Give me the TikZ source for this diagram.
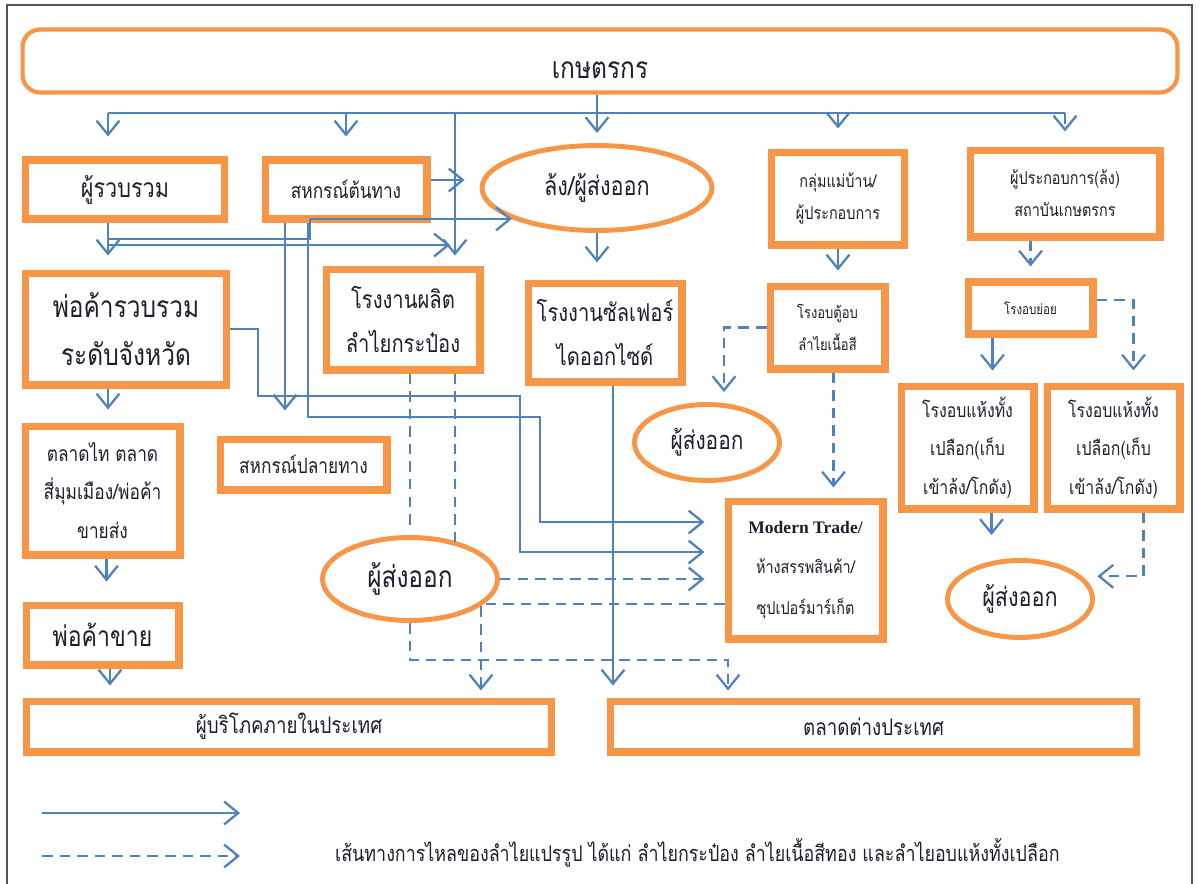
\documentclass[tikz,border=0pt]{standalone}
\usepackage{fontspec}
\usetikzlibrary{arrows.meta,shapes.geometric}
\newfontfamily\thai[Script=Thai,FakeStretch=0.82]{Loma}
\newfontfamily\latinserif{Liberation Serif}
\newcommand\thfs[2]{\fontsize{#1}{#2}\selectfont}
\definecolor{orng}{HTML}{F79646}
\definecolor{blu}{HTML}{4F81BD}
\definecolor{txt}{HTML}{1E1E2E}
\definecolor{frm}{HTML}{555555}
\begin{document}
\begin{tikzpicture}[x=0.02cm,y=-0.02cm,
  box/.style={draw=orng, line width=4pt, fill=white, rectangle, align=center, inner sep=0pt, text=txt},
  oval/.style={draw=orng, line width=2.8pt, fill=white, ellipse, inner sep=0pt, align=center, text=txt},
  conn/.style={draw=blu, line width=1.3pt},
  arr/.style={conn, -{Straight Barb[length=8pt,width=13pt]}},
  darr/.style={arr, dash pattern=on 6pt off 4pt},
  dline/.style={conn, dash pattern=on 6pt off 4pt}]
\useasboundingbox (0,0) rectangle (1200,883);
\fill[white] (0,0) rectangle (1200,883);
\draw[frm, line width=1.2pt] (7,890) -- (7,5) -- (1192,5) -- (1192,890);

% nodes
\node[box, rounded corners=0.35cm, line width=2.4pt, minimum width=23.1cm, minimum height=1.26cm, font=\thai\thfs{17}{20}] (farmer) at (600,61) {\smash{\raisebox{-0.34cm}{เกษตรกร}}};
\node[box, minimum width=4.0cm, minimum height=1.18cm, font=\thai\thfs{15}{20}] (collector) at (125,189.5) {ผู้รวบรวม};
\node[box, minimum width=3.24cm, minimum height=1.18cm, font=\thai\thfs{12}{16}] (coopsrc) at (346,189.5) {สหกรณ์ต้นทาง};
\node[oval, minimum width=4.6cm, minimum height=1.7cm, font=\thai\thfs{15}{18}] (longexp) at (597,188) {ล้ง/ผู้ส่งออก};
\node[box, minimum width=2.66cm, minimum height=1.86cm, font=\thai\thfs{10}{18}] (housewife) at (838,198.5) {กลุ่มแม่บ้าน/\\ผู้ประกอบการ};
\node[box, minimum width=3.8cm, minimum height=1.74cm, font=\thai\thfs{10}{18}] (operator) at (1065,193.5) {ผู้ประกอบการ(ล้ง)\\สถาบันเกษตรกร};
\node[box, minimum width=4.04cm, minimum height=2.24cm, font=\thai\thfs{17}{27}] (provtrader) at (126,329) {พ่อค้ารวบรวม\\ระดับจังหวัด};
\node[box, minimum width=3.08cm, minimum height=2.02cm, font=\thai\thfs{14}{25}] (cannery) at (403,319.5) {โรงงานผลิต\\ลำไยกระป๋อง};
\node[box, minimum width=3.08cm, minimum height=1.98cm, font=\thai\thfs{14}{25}] (sulfur) at (605,332.5) {โรงงานซัลเฟอร์\\ไดออกไซด์};
\node[box, minimum width=2.3cm, minimum height=1.66cm, font=\thai\thfs{9}{18}] (ovenflesh) at (827.5,327.5) {โรงอบตู้อบ\\ลำไยเนื้อสี};
\node[box, minimum width=2.5cm, minimum height=1.04cm, font=\thai\thfs{8}{10}] (smalloven) at (1030.5,308) {โรงอบย่อย};
\node[oval, minimum width=2.9cm, minimum height=1.52cm, font=\thai\thfs{14.5}{18}] (exportmid) at (707,442.5) {ผู้ส่งออก};
\node[box, minimum width=3.1cm, minimum height=2.58cm, font=\thai\thfs{12}{22}] (talatthai) at (102.5,490.5) {ตลาดไท ตลาด\\สี่มุมเมือง/พ่อค้า\\ขายส่ง};
\node[box, minimum width=3.34cm, minimum height=1.02cm, font=\thai\thfs{12}{16}] (coopdst) at (303.5,464.5) {สหกรณ์ปลายทาง};
\node[box, minimum width=2.66cm, minimum height=2.46cm, font=\thai\thfs{11}{22}] (dryL) at (967.5,447.5) {โรงอบแห้งทั้ง\\เปลือก(เก็บ\\เข้าล้ง/โกดัง)};
\node[box, minimum width=2.66cm, minimum height=2.46cm, font=\thai\thfs{11}{22}] (dryR) at (1113.5,447.5) {โรงอบแห้งทั้ง\\เปลือก(เก็บ\\เข้าล้ง/โกดัง)};
\node[box, minimum width=3.1cm, minimum height=2.76cm, font=\thai\thfs{10}{23}] (modern) at (805.5,570) {{\latinserif\bfseries Modern Trade/}\\ห้างสรรพสินค้า/\\ซุปเปอร์มาร์เก็ต};
\node[oval, minimum width=3.5cm, minimum height=1.66cm, font=\thai\thfs{17}{18}] (exportbot) at (410,579) {ผู้ส่งออก};
\node[oval, minimum width=2.9cm, minimum height=1.54cm, font=\thai\thfs{15}{18}] (exportR) at (1020,599) {ผู้ส่งออก};
\node[box, minimum width=3.06cm, minimum height=1.2cm, font=\thai\thfs{16}{18}] (retailer) at (102.5,635) {พ่อค้าขาย};
\node[box, minimum width=10.52cm, minimum height=1.02cm, font=\thai\thfs{13}{16}] (consumer) at (289,726.5) {ผู้บริโภคภายในประเทศ};
\node[box, minimum width=10.54cm, minimum height=1.02cm, font=\thai\thfs{13}{16}] (foreign) at (873.5,726.5) {ตลาดต่างประเทศ};

% coordinates
\coordinate (busL) at (108,113);
\coordinate (v455) at (455,113);
\coordinate (busR) at (operator.north |- busL);

% top bus
\draw[conn] (longexp.north |- farmer.south) -- (longexp.north |- busL);
\draw[conn] (busL) -- (busR);
\draw[arr, shorten >=0.4cm] (busL) -- (busL |- collector.north);
\draw[arr, shorten >=0.4cm] (coopsrc.north |- busL) -- (coopsrc.north);
\draw[arr, shorten >=0.2cm] (longexp.north |- busL) -- (longexp.north);
\draw[arr, shorten >=0.4cm] (housewife.north |- busL) -- (housewife.north);
\draw[darr, shorten >=0.3cm] (busR) -- (operator.north);
\draw[arr, shorten >=0.2cm] (v455) -- (v455 |- cannery.north);

% from collector
\draw[arr, shorten >=0.28cm] (busL |- collector.south) -- (busL |- provtrader.north);
\coordinate (c1) at (450,245);
\draw[arr] (busL |- collector.south) |- (c1);
\coordinate (c2) at (310,239);
\draw[arr] (busL |- collector.south) |- (c2) |- (longexp.200);

% from coopsrc
\draw[arr, shorten >=0.3cm] ([yshift=0.19cm]coopsrc.east) -- ([yshift=0.19cm]coopsrc.east -| longexp.west);
\draw[arr, shorten >=0.5cm] ([xshift=-1.22cm]coopsrc.south) -- ([xshift=-1.22cm]coopsrc.south |- coopdst.north);
\coordinate (c3) at (540,417);
\draw[arr, shorten >=0.4cm] ([xshift=-0.76cm]coopsrc.south) |- (c3) |- ([yshift=0.96cm]modern.west);

% from provtrader
\coordinate (c4) at (258,396);
\coordinate (c5) at (520,396);
\draw[arr, shorten >=0.4cm] (provtrader.east) -| (c4) -- (c5) |- ([yshift=0.36cm]modern.west);
\draw[arr, shorten >=0.26cm] (busL |- provtrader.south) -- (busL |- talatthai.north);

% left column
\draw[arr, shorten >=0.4cm] ([xshift=0.08cm]talatthai.south) -- ([xshift=0.08cm]retailer.north);
\draw[arr, shorten >=0.24cm] ([xshift=0.15cm]retailer.south) -- ([xshift=0.15cm]retailer.south |- consumer.north);

% longexp / sulfur
\draw[arr, shorten >=0.34cm] (longexp.south) -- (longexp.south |- sulfur.north);
\draw[arr, shorten >=0.24cm] ([xshift=0.16cm]sulfur.south) -- ([xshift=0.16cm]sulfur.south |- foreign.north);

% housewife branch
\draw[arr, shorten >=0.24cm] (housewife.south) -- (housewife.south |- ovenflesh.north);
\draw[darr, shorten >=0.2cm] (ovenflesh.west) -| ([xshift=0.34cm]exportmid.north);
\draw[darr, shorten >=0.2cm] ([xshift=0.12cm]ovenflesh.south) -- ([xshift=0.12cm]ovenflesh.south |- modern.north);

% operator branch
\draw[darr, shorten >=0.24cm] (smalloven.north |- operator.south) -- (smalloven.north);
\draw[arr, shorten >=0.24cm] ([xshift=-0.76cm]smalloven.south) -- ([xshift=-0.76cm]smalloven.south |- dryL.north);
\draw[darr, shorten >=0.24cm] ([yshift=0.16cm]smalloven.east) -| ([xshift=0.4cm]dryR.north);
\draw[arr, shorten >=0.46cm] ([xshift=0.48cm]dryL.south) -- ([xshift=0.48cm]dryL.south |- exportR.north);
\draw[darr, shorten >=0.3cm] ([xshift=0.6cm]dryR.south) |- (exportR.20);

% cannery / exporters
\draw[dline, shorten >=0.1cm] ([xshift=0.14cm]cannery.south) -- ([xshift=0.14cm]cannery.south |- exportbot.north);
\draw[dline] ([xshift=1.04cm]cannery.south) -- ++(0,168);
\draw[darr, shorten >=0.4cm] (exportbot.east) -- (exportbot.east -| modern.west);
\draw[darr, shorten >=0.14cm] ([yshift=-0.68cm]modern.west) -| ([xshift=3.84cm]consumer.north);
\draw[darr, shorten >=0.14cm] (exportbot.south) -- ++(0,37) -| ([xshift=-2.91cm]foreign.north);

% legend
\coordinate (la) at (42,813);
\coordinate (lb) at (240,813);
\coordinate (lc) at (42,856);
\coordinate (ld) at (240,856);
\draw[arr] (la) -- (lb);
\draw[darr] (lc) -- (ld);
\node[font=\thai\thfs{12.4}{14}, text=txt, anchor=west] (legendtext) at (329,853) {เส้นทางการไหลของลำไยแปรรูป ได้แก่ ลำไยกระป๋อง ลำไยเนื้อสีทอง และลำไยอบแห้งทั้งเปลือก};
\end{tikzpicture}
\end{document}
